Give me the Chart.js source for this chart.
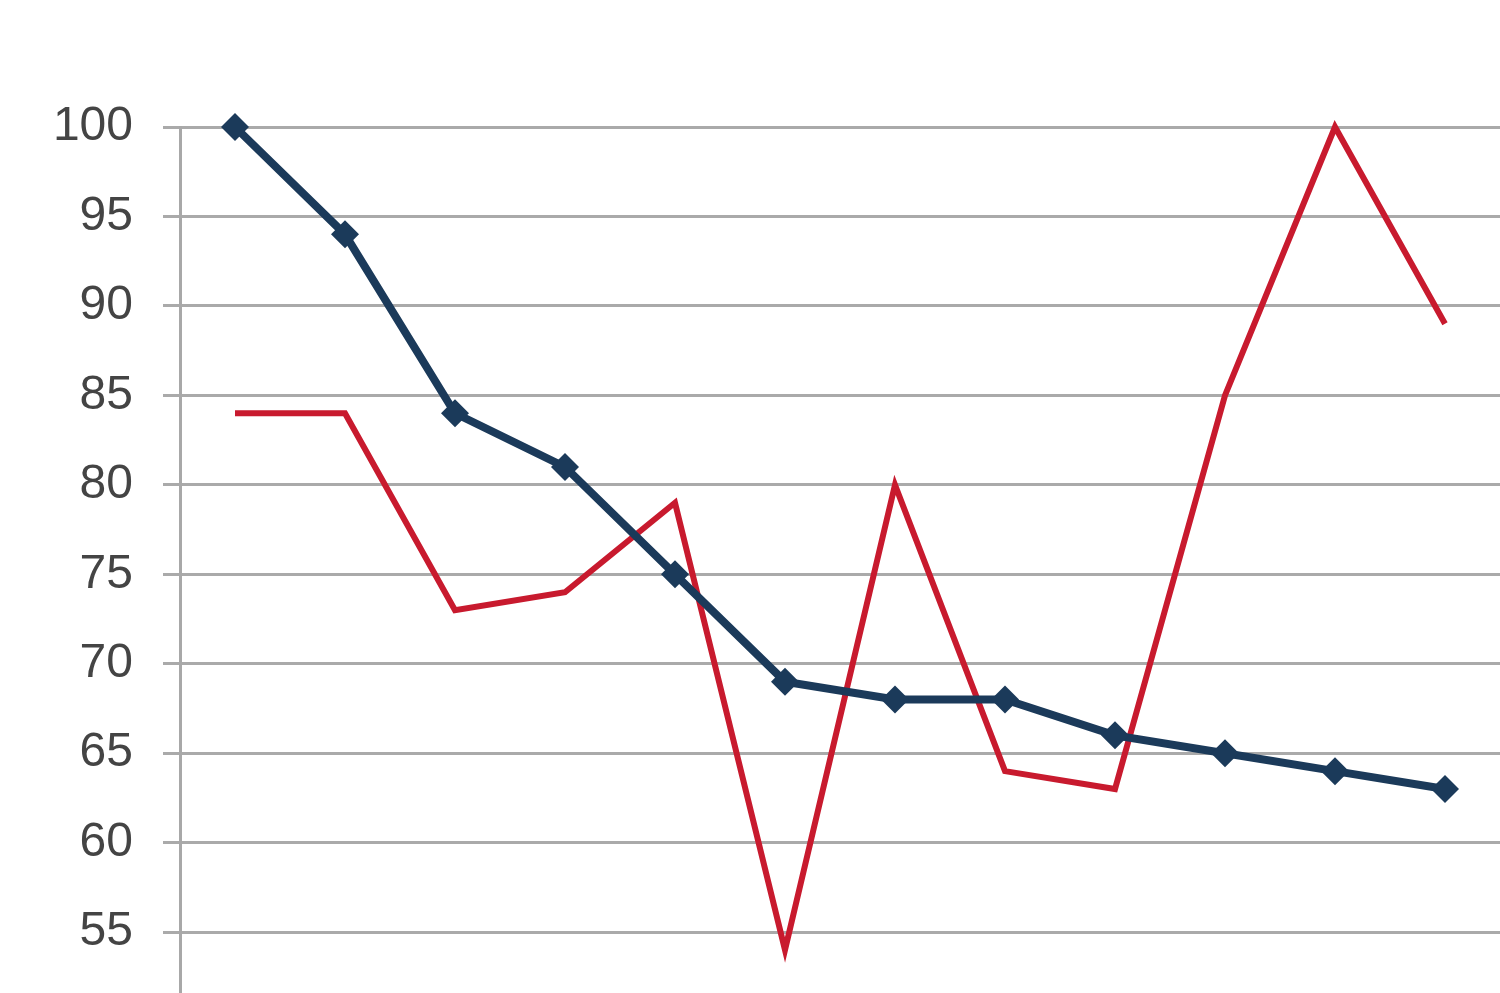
<!DOCTYPE html>
<html>
<head>
<meta charset="utf-8">
<script src="https://cdn.jsdelivr.net/npm/chart.js@4/dist/chart.umd.min.js"></script>
<style>
  html, body { margin: 0; padding: 0; background: #fff; overflow: hidden; }
  #wrap { width: 1500px; height: 993px; position: relative; }
</style>
</head>
<body>
<div id="wrap"><canvas id="chart"></canvas></div>
<script>
const labels = ['1', '2', '3', '4', '5', '6', '7', '8', '9', '10', '11', '12'];
const blueValues = [100, 94, 84, 81, 75, 69, 68, 68, 66, 65, 64, 63];
const redValues = [84, 84, 73, 74, 79, 54, 80, 64, 63, 85, 100, 89];

const ctx = document.getElementById('chart').getContext('2d');

new Chart(ctx, {
    type: 'line',
    data: {
        labels: labels,
        datasets: [
            {
                data: redValues,
                borderColor: '#c81a2e',
                borderWidth: 6,
                pointRadius: 0,
                tension: 0,
                clip: false,
                order: 2
            },
            {
                data: blueValues,
                borderColor: '#1b3a5a',
                backgroundColor: '#1b3a5a',
                borderWidth: 8,
                pointStyle: 'rectRot',
                pointRadius: 14,
                pointBorderWidth: 0,
                tension: 0,
                clip: false,
                order: 1
            }
        ]
    },
    options: {
        responsive: true,
        maintainAspectRatio: false,
        animation: false,
        layout: { autoPadding: false, padding: { top: 127, right: 0, bottom: 0, left: 0 } },
        plugins: {
            legend: { display: false },
            tooltip: { enabled: false }
        },
        scales: {
            x: {
                display: false,
                offset: true
            },
            y: {
                min: 51.6,
                max: 100,
                border: { display: true, color: '#a8a8a8', width: 3 },
                grid: {
                    color: '#aaaaaa',
                    lineWidth: 3,
                    tickLength: 17
                },
                ticks: {
                    stepSize: 5,
                    includeBounds: false,
                    padding: 30,
                    color: '#444',
                    font: { family: 'Liberation Sans', size: 48 }
                },
                afterFit: (scale) => {
                    scale.width = 180;
                    scale.paddingTop = 0;
                    scale.paddingBottom = 0;
                }
            }
        }
    }
});
</script>
</body>
</html>
